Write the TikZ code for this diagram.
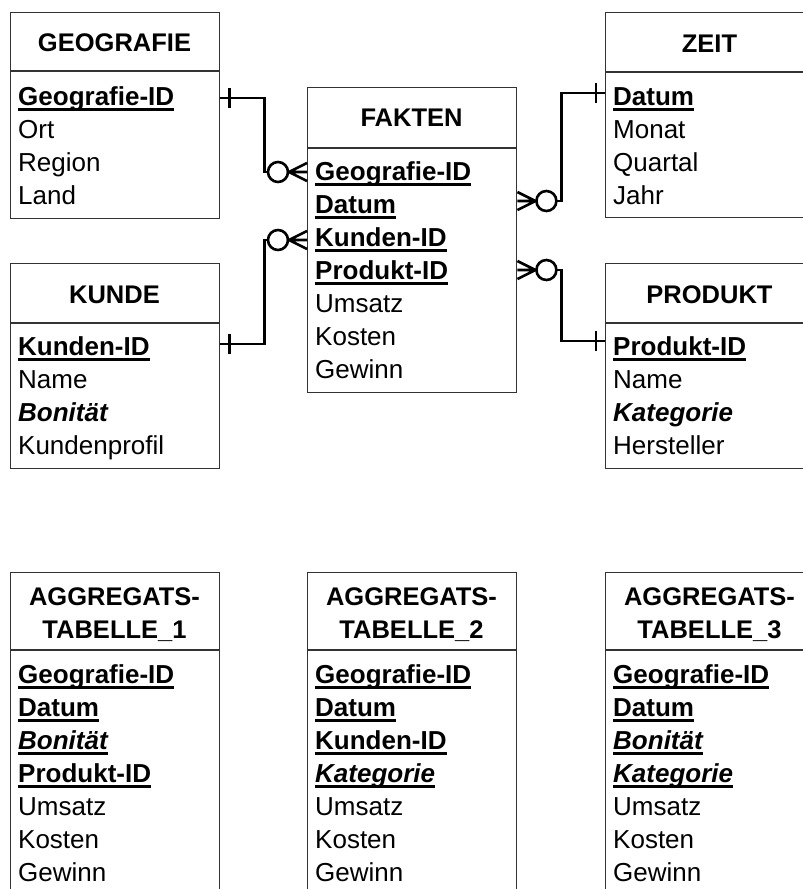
\documentclass[tikz,border=0pt]{standalone}
\usepackage{fontspec}
\setmainfont{Liberation Sans}
% underlined key attribute with a heavy rule below the baseline
\newcommand\keyul[1]{\setbox0\hbox{#1}\rlap{\rule[-6pt]{\wd0}{2.7pt}}\box0}
\newcommand\attrfont{\fontsize{26}{33}\selectfont}
\begin{document}
\begin{tikzpicture}[x=1pt,y=-1pt,
  box/.style={draw=black!80, line width=1.4pt, rectangle, inner sep=0pt,
              anchor=north west, minimum width=209pt},
  sep/.style={draw=black!80, line width=1.4pt},
  title/.style={font=\fontsize{25.5}{33}\selectfont\bfseries, align=center,
                inner sep=0pt, anchor=base},
  attr/.style={font=\attrfont, anchor=base west, inner sep=0pt},
  link/.style={line width=2.6pt, line cap=butt, line join=miter},
  pics/crow/.style={code={
    \draw[link] (0,-9) -- (-18,0) -- (0,9) (0,0) -- (-18,0);
    \draw[link] (-29,0) circle[radius=10pt];
  }},
  pics/onebar/.style={code={
    \draw[link] (9,-10) -- (9,10);
  }}
]
\useasboundingbox (0,0) rectangle (803,889);
\clip (0,0) rectangle (803,889);

% ---------- entity boxes ----------
\node[box, minimum height=206pt] (geo) at (10,12) {};
\draw[sep] ([yshift=-59pt]geo.north west) -- ([yshift=-59pt]geo.north east);
\node[title] (geo-t) at (114.5,51.5) {GEOGRAFIE};
\foreach \t [count=\i] in {{\keyul{\bfseries Geografie-ID}}, Ort, Region, Land}
  \node[attr] (geo-\i) at (18,{72+33*\i}) {\t};

\node[box, minimum height=205pt] (zeit) at (605,12) {};
\draw[sep] ([yshift=-60pt]zeit.north west) -- ([yshift=-60pt]zeit.north east);
\node[title] (zeit-t) at (709.5,52) {ZEIT};
\foreach \t [count=\i] in {{\keyul{\bfseries Datum}}, Monat, Quartal, Jahr}
  \node[attr] (zeit-\i) at (613,{72+33*\i}) {\t};

\node[box, minimum height=305pt] (fakt) at (307,87) {};
\draw[sep] ([yshift=-61pt]fakt.north west) -- ([yshift=-61pt]fakt.north east);
\node[title] (fakt-t) at (411.5,126.5) {FAKTEN};
\foreach \t [count=\i] in {{\keyul{\bfseries Geografie-ID}}, {\keyul{\bfseries Datum}},
    {\keyul{\bfseries Kunden-ID}}, {\keyul{\bfseries Produkt-ID}}, Umsatz, Kosten, Gewinn}
  \node[attr] (fakt-\i) at (315,{147+33*\i}) {\t};

\node[box, minimum height=205pt] (kunde) at (10,263) {};
\draw[sep] ([yshift=-60pt]kunde.north west) -- ([yshift=-60pt]kunde.north east);
\node[title] (kunde-t) at (114.5,303) {KUNDE};
\foreach \t [count=\i] in {{\keyul{\bfseries Kunden-ID}}, Name, {\bfseries\itshape Bonität}, Kundenprofil}
  \node[attr] (kunde-\i) at (18,{322+33*\i}) {\t};

\node[box, minimum height=205pt] (prod) at (605,263) {};
\draw[sep] ([yshift=-60pt]prod.north west) -- ([yshift=-60pt]prod.north east);
\node[title] (prod-t) at (709.5,303) {PRODUKT};
\foreach \t [count=\i] in {{\keyul{\bfseries Produkt-ID}}, Name, {\bfseries\itshape Kategorie}, Hersteller}
  \node[attr] (prod-\i) at (613,{322+33*\i}) {\t};

% ---------- aggregate tables ----------
\node[box, minimum height=340pt] (agga) at (10,572) {};
\draw[sep] ([yshift=-78pt]agga.north west) -- ([yshift=-78pt]agga.north east);
\node[title, anchor=north] (agga-t) at (114.5,587.5) {AGGREGATS-\\TABELLE\_1};
\foreach \t [count=\i] in {{\keyul{\bfseries Geografie-ID}}, {\keyul{\bfseries Datum}},
    {\keyul{\bfseries\itshape Bonität}}, {\keyul{\bfseries Produkt-ID}}, Umsatz, Kosten, Gewinn}
  \node[attr] (agga-\i) at (18,{650+33*\i}) {\t};

\node[box, minimum height=340pt] (aggb) at (307,572) {};
\draw[sep] ([yshift=-78pt]aggb.north west) -- ([yshift=-78pt]aggb.north east);
\node[title, anchor=north] (aggb-t) at (411.5,587.5) {AGGREGATS-\\TABELLE\_2};
\foreach \t [count=\i] in {{\keyul{\bfseries Geografie-ID}}, {\keyul{\bfseries Datum}},
    {\keyul{\bfseries Kunden-ID}}, {\keyul{\bfseries\itshape Kategorie}}, Umsatz, Kosten, Gewinn}
  \node[attr] (aggb-\i) at (315,{650+33*\i}) {\t};

\node[box, minimum height=340pt] (aggc) at (605,572) {};
\draw[sep] ([yshift=-78pt]aggc.north west) -- ([yshift=-78pt]aggc.north east);
\node[title, anchor=north] (aggc-t) at (709.5,587.5) {AGGREGATS-\\TABELLE\_3};
\foreach \t [count=\i] in {{\keyul{\bfseries Geografie-ID}}, {\keyul{\bfseries Datum}},
    {\keyul{\bfseries\itshape Bonität}}, {\keyul{\bfseries\itshape Kategorie}}, Umsatz, Kosten, Gewinn}
  \node[attr] (aggc-\i) at (613,{650+33*\i}) {\t};

% ---------- relationship end points on the box edges ----------
\coordinate (geo-pk)   at (geo.east |- 0,98);
\coordinate (kunde-pk) at (kunde.east |- 0,344);
\coordinate (zeit-pk)  at (zeit.west |- 0,93);
\coordinate (prod-pk)  at (prod.west |- 0,341);
\coordinate (fk-geo)   at (fakt.west |- 0,172);
\coordinate (fk-kun)   at (fakt.west |- 0,240);
\coordinate (fk-dat)   at (fakt.east |- 0,201);
\coordinate (fk-prod)  at (fakt.east |- 0,270);

% ---------- relationships (one to zero-or-many) ----------
\draw[link] (geo-pk) -- ++(44,0) |- ([xshift=-39pt]fk-geo);
\pic at (geo-pk) {onebar};
\pic at (fk-geo) {crow};

\draw[link] (kunde-pk) -- ++(44,0) |- ([xshift=-39pt]fk-kun);
\pic at (kunde-pk) {onebar};
\pic at (fk-kun) {crow};

\draw[link] ([xshift=39pt]fk-dat) -- ++(5,0) |- (zeit-pk);
\pic[xscale=-1] at (zeit-pk) {onebar};
\pic[xscale=-1] at (fk-dat) {crow};

\draw[link] ([xshift=39pt]fk-prod) -- ++(5,0) |- (prod-pk);
\pic[xscale=-1] at (prod-pk) {onebar};
\pic[xscale=-1] at (fk-prod) {crow};
\end{tikzpicture}
\end{document}
